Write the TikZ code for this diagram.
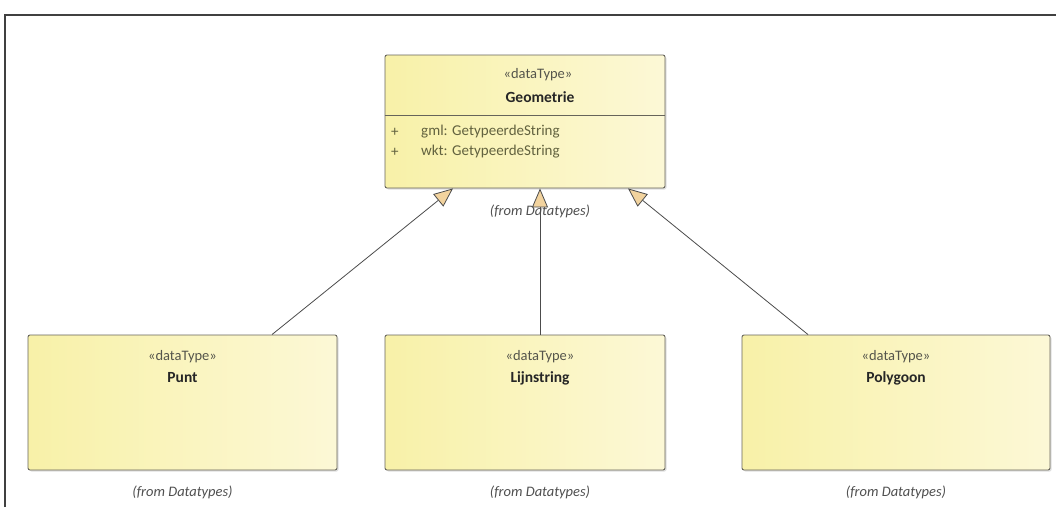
\documentclass[tikz,border=0pt]{standalone}
\usepackage{fontspec}
\setmainfont{Carlito}
\usetikzlibrary{arrows.meta,shadows,calc}
\definecolor{boxleft}{HTML}{F8F1A8}
\definecolor{boxright}{HTML}{FCF8D6}
\definecolor{boxline}{HTML}{66645A}
\definecolor{tipfill}{HTML}{F2D39E}
\definecolor{stereotxt}{HTML}{55554C}
\definecolor{attrtxt}{HTML}{62623F}
\definecolor{fromtxt}{HTML}{505050}
\begin{document}
\begin{tikzpicture}[x=1pt,y=-1pt,
  classbox/.style={draw=boxline,line width=0.9pt,rounded corners=2pt,
    left color=boxleft,right color=boxright,
    drop shadow={opacity=0.25,shadow xshift=1.5pt,shadow yshift=-1.5pt},
    minimum height=135pt,inner sep=0pt},
  stereo/.style={font=\fontsize{14.5}{15}\selectfont,text=stereotxt,inner sep=0pt},
  cname/.style={font=\fontsize{15.5}{16}\selectfont\bfseries,text=black!85,inner sep=0pt},
  attr/.style={font=\fontsize{15}{16}\selectfont,text=attrtxt,inner sep=0pt,anchor=west},
  fromlbl/.style={font=\fontsize{14.5}{15}\selectfont\itshape,text=fromtxt,inner sep=0pt},
  general/.style={draw=black!70,line width=0.8pt,
    -{Triangle[length=19pt,width=16pt,fill=tipfill]}}]
\useasboundingbox (0,0) rectangle (1056,507);
\fill[white] (0,0) rectangle (1056,507);
% diagram frame
\draw[black!75,line width=1.4pt] (5,507) coordinate (fbl) -- (5,15) coordinate (ftl) -- (1056,15) coordinate (ftr);

% parent class
\node[classbox,minimum width=280pt,minimum height=133pt] (geo) at (525,121.5) {};
\draw[boxline,line width=0.7pt] (geo.west |- 0,115) -- (geo.east |- 0,115);
\node[stereo] (geost) at (538,75) {«dataType»};
\node[cname] (geonm) at (540,97) {Geometrie};
\node[attr] (geoa1p) at (391,132) {+};
\node[attr] (geoa1) at (421,132) {gml: GetypeerdeString};
\node[attr] (geoa2p) at (391,152) {+};
\node[attr] (geoa2) at (421,152) {wkt: GetypeerdeString};
\node[fromlbl] (geofrom) at (540,211) {(from Datatypes)};

% child classes
\node[classbox,minimum width=309pt] (punt) at (182.5,402.5) {};
\node[stereo] (puntst) at (182.5,357) {«dataType»};
\node[cname] (puntnm) at (182.5,378) {Punt};
\node[fromlbl] (puntfrom) at (182.5,492) {(from Datatypes)};

\node[classbox,minimum width=280pt] (lijn) at (525,402.5) {};
\node[stereo] (lijnst) at (540,357) {«dataType»};
\node[cname] (lijnnm) at (540,378) {Lijnstring};
\node[fromlbl] (lijnfrom) at (540,492) {(from Datatypes)};

\node[classbox,minimum width=308pt] (poly) at (896,402.5) {};
\node[stereo] (polyst) at (896,357) {«dataType»};
\node[cname] (polynm) at (896,378) {Polygoon};
\node[fromlbl] (polyfrom) at (896,492) {(from Datatypes)};

% generalizations
\draw[general] (punt.north -| 272,0) -- (geo.south -| 453,0);
\draw[general] (lijn.north -| 540,0) -- (geo.south -| 540,0);
\draw[general] (poly.north -| 808,0) -- (geo.south -| 628,0);
\end{tikzpicture}
\end{document}
